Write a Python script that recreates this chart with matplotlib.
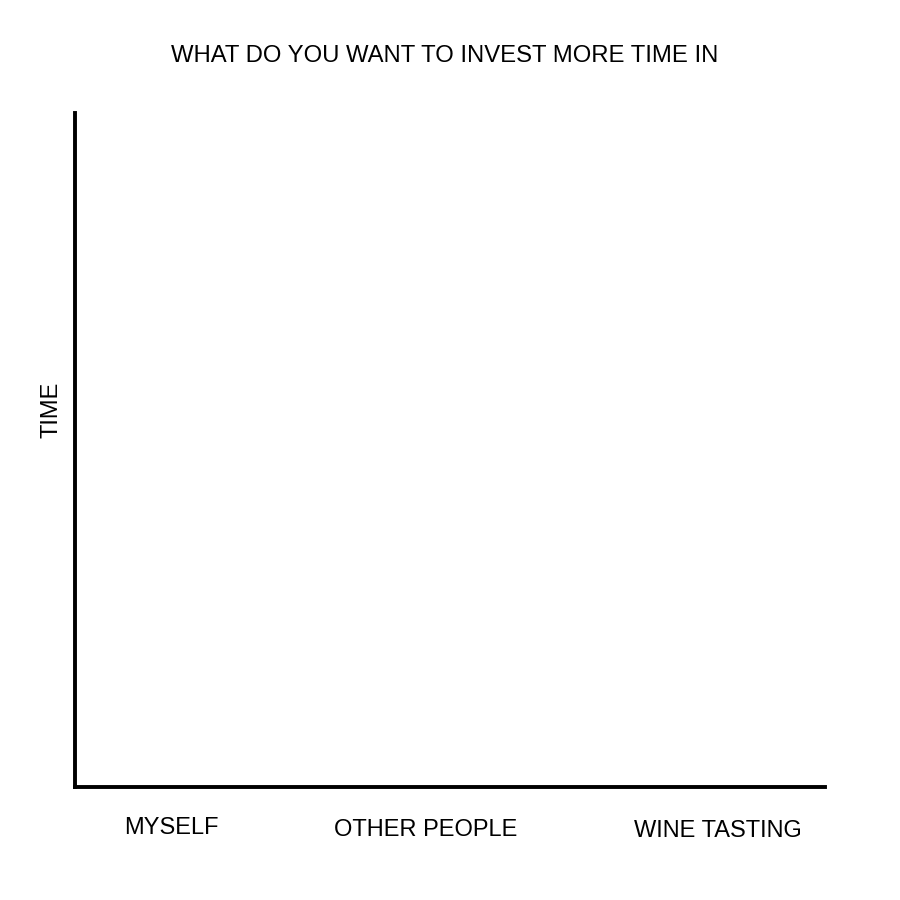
import matplotlib
matplotlib.use("Agg")
import matplotlib.pyplot as plt
from matplotlib.transforms import blended_transform_factory

# --- Data ---
categories = ["MYSELF", "OTHER PEOPLE", "WINE TASTING"]
values = [0, 0, 0]
title = "WHAT DO YOU WANT TO INVEST MORE TIME IN"
ylabel = "TIME"

# layout (hand placed in the original)
x_pos = [0.129, 0.467, 0.857]
label_y = [-0.061, -0.064, -0.066]

plt.rcParams["font.family"] = ["Liberation Sans", "DejaVu Sans"]

fig = plt.figure(figsize=(9, 9), dpi=100)
ax = fig.add_axes([0.0833, 0.1256, 0.8333, 0.749])

ax.bar(x_pos, values, width=0.2, color="black")
ax.set_xlim(0, 1)
ax.set_ylim(0, 1)

ax.spines[["top", "right"]].set_visible(False)
ax.spines["left"].set_linewidth(2.8)
ax.spines["bottom"].set_linewidth(2.8)
ax.set_xticks([])
ax.set_yticks([])

trans = blended_transform_factory(ax.transData, ax.transAxes)
for x, y, name in zip(x_pos, label_y, categories):
    ax.text(x, y, name, transform=trans, ha="center", va="center", fontsize=17)

ax.text(-0.031, 0.559, ylabel, transform=ax.transAxes, rotation=90,
        ha="center", va="center", fontsize=17)
fig.text(0.494, 1 - 56 / 900, title, ha="center", va="center", fontsize=17.2)

fig.savefig("out.png", dpi=100)
plt.close(fig)
